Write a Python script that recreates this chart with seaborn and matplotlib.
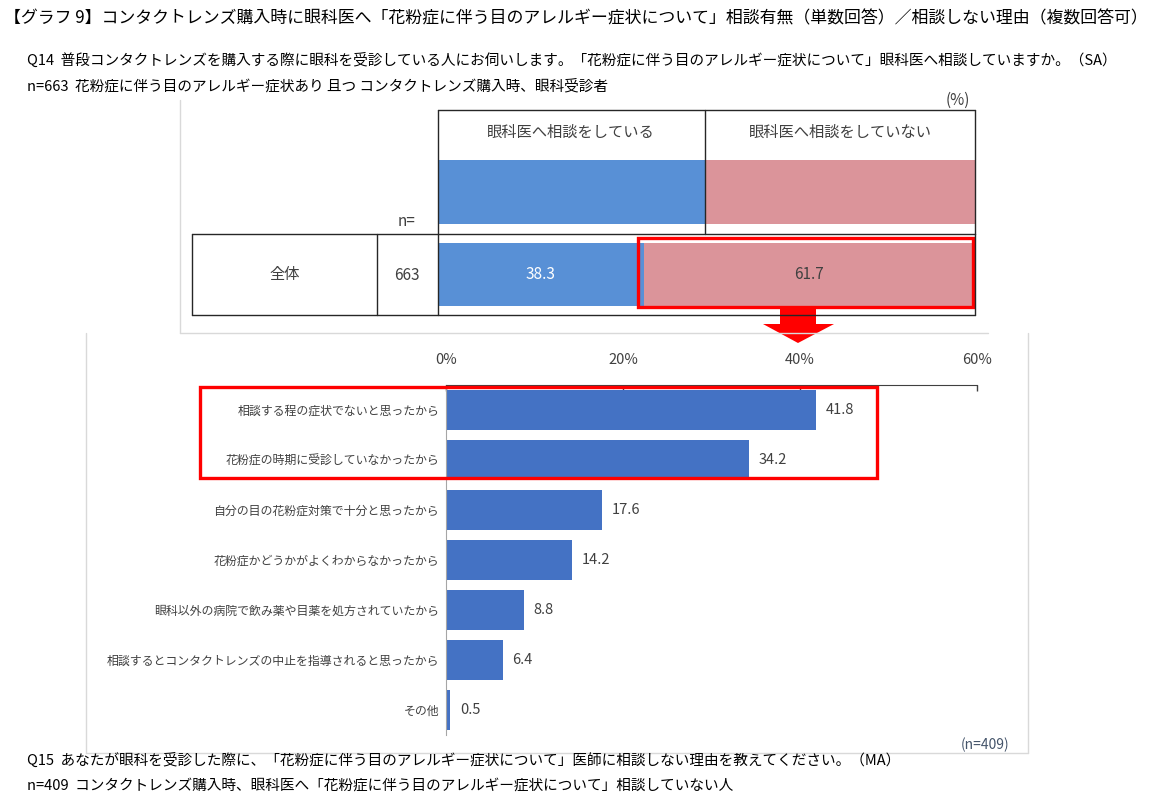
import matplotlib
matplotlib.use("Agg")
import matplotlib.pyplot as plt
from matplotlib.lines import Line2D
from matplotlib.patches import Rectangle, Polygon
import seaborn as sns

# Q14: consulted / not consulted (%)
q14_groups = ["眼科医へ相談をしている", "眼科医へ相談をしていない"]
q14_row = "全体"
q14_n = 663
q14_values = [38.3, 61.7]

# Q15: reasons for not consulting (%)
q15_reasons = [
    "相談する程の症状でないと思ったから",
    "花粉症の時期に受診していなかったから",
    "自分の目の花粉症対策で十分と思ったから",
    "花粉症かどうかがよくわからなかったから",
    "眼科以外の病院で飲み薬や目薬を処方されていたから",
    "相談するとコンタクトレンズの中止を指導されると思ったから",
    "その他",
]
q15_values = [41.8, 34.2, 17.6, 14.2, 8.8, 6.4, 0.5]
q15_ticks = [0, 20, 40, 60]

title = "【グラフ 9】コンタクトレンズ購入時に眼科医へ「花粉症に伴う目のアレルギー症状について」相談有無（単数回答）／相談しない理由（複数回答可）"
q14_text = "Q14  普段コンタクトレンズを購入する際に眼科を受診している人にお伺いします。「花粉症に伴う目のアレルギー症状について」眼科医へ相談していますか。（SA）"
q14_base = "n=663  花粉症に伴う目のアレルギー症状あり 且つ コンタクトレンズ購入時、眼科受診者"
q15_text = "Q15  あなたが眼科を受診した際に、「花粉症に伴う目のアレルギー症状について」医師に相談しない理由を教えてください。（MA）"
q15_base = "n=409  コンタクトレンズ購入時、眼科医へ「花粉症に伴う目のアレルギー症状について」相談していない人"

BLUE_TOP = "#5890D6"
PINK = "#DB949A"
BLUE_BAR = "#4472C4"
RED = "#FF0000"
DARK = "#404040"

sns.set_style("white")
plt.rcParams["font.family"] = ["Noto Sans CJK JP", "DejaVu Sans"]

W, H = 1170, 806
fig = plt.figure(figsize=(W / 100, H / 100), dpi=100)


def fx(x):
    return x / W


def fy(y):
    return 1 - y / H


def line(x0, y0, x1, y1, color="#262626", lw=1.0):
    fig.add_artist(Line2D([fx(x0), fx(x1)], [fy(y0), fy(y1)],
                          transform=fig.transFigure, color=color, lw=lw))


def text(x, y, s, **kw):
    kw.setdefault("va", "center")
    fig.text(fx(x), fy(y), s, **kw)


def rect(x0, y0, x1, y1, **kw):
    fig.add_artist(Rectangle((fx(x0), fy(y1)), fx(x1) - fx(x0), fy(y0) - fy(y1),
                             transform=fig.transFigure, **kw))


# headings
text(4, 18, title, fontsize=12.2, color="black")
text(27, 60, q14_text, fontsize=10.55, color="black")
text(27, 86, q14_base, fontsize=10.55, color="black")
text(27, 760, q15_text, fontsize=10.55, color="black")
text(27, 786, q15_base, fontsize=10.55, color="black")

# light frames around the two chart images
line(180, 100, 180, 333, color="#D9D9D9")
line(180, 333, 988, 333, color="#D9D9D9")
line(86, 333, 86, 753, color="#D9D9D9")
line(1028, 333, 1028, 753, color="#D9D9D9")
line(86, 753, 1028, 753, color="#D9D9D9")

# ---- top table (Q14) ----
text(958, 100, "(%)", fontsize=11, color=DARK, ha="center")
line(438, 110, 975, 110)
for x in (438, 705, 975):
    line(x, 110, x, 234)
text(571, 132, q14_groups[0], fontsize=11, color=DARK, ha="center")
text(840, 132, q14_groups[1], fontsize=11, color=DARK, ha="center")
rect(438, 160, 705, 224, color=BLUE_TOP, lw=0)
rect(705, 160, 975, 224, color=PINK, lw=0)
text(407, 222, "n=", fontsize=11, color=DARK, ha="center")

line(192, 234, 975, 234)
line(192, 315, 975, 315)
for x in (192, 377, 438, 975):
    line(x, 234, x, 315)
text(285, 275, q14_row, fontsize=11, color=DARK, ha="center")
text(407, 275, str(q14_n), fontsize=11, color=DARK, ha="center")

ax1 = fig.add_axes([fx(438), fy(315), (975 - 438) / W, (315 - 234) / H])
sns.barplot(x=[q14_values[0] + q14_values[1]], y=[q14_row], color=PINK,
            width=0.79, saturation=1, ax=ax1, orient="h", linewidth=0)
sns.barplot(x=[q14_values[0]], y=[q14_row], color=BLUE_TOP,
            width=0.79, saturation=1, ax=ax1, orient="h", linewidth=0)
ax1.containers[0][0].set_x(q14_values[0])
ax1.containers[0][0].set_width(q14_values[1])
ax1.bar_label(ax1.containers[0], labels=[f"{q14_values[1]:.1f}"], label_type="center",
              fontsize=11, color=DARK)
ax1.bar_label(ax1.containers[1], labels=[f"{q14_values[0]:.1f}"], label_type="center",
              fontsize=11, color="white")
ax1.set_xlim(0, 100)
ax1.set_ylim(0.5, -0.5)
ax1.axis("off")

rect(638, 238, 973, 307, fill=False, edgecolor=RED, lw=2.4)

# red arrow
fig.add_artist(Polygon([(fx(780), fy(307)), (fx(816), fy(307)), (fx(816), fy(324)),
                        (fx(834), fy(324)), (fx(798), fy(343)), (fx(763), fy(324)),
                        (fx(780), fy(324))], closed=True, transform=fig.transFigure,
                       color=RED, lw=0))

# ---- bottom bar chart (Q15) ----
ax2 = fig.add_axes([fx(446), fy(735), (977 - 446) / W, (735 - 385) / H])
sns.barplot(x=q15_values, y=q15_reasons, color=BLUE_BAR, width=0.8,
            saturation=1, ax=ax2, orient="h", linewidth=0)
ax2.bar_label(ax2.containers[0], labels=[f"{v:.1f}" for v in q15_values],
              padding=7, fontsize=10.5, color=DARK)
ax2.set_xlim(0, 60)
ax2.set_ylim(6.5, -0.5)
ax2.set_xticks(q15_ticks)
ax2.set_xticklabels([f"{t}%" for t in q15_ticks])
ax2.xaxis.tick_top()
ax2.tick_params(axis="x", direction="in", length=4, width=1, color="#404040",
                labelsize=10.5, labelcolor=DARK, pad=13)
ax2.tick_params(axis="y", length=0, labelsize=8.6, labelcolor=DARK, pad=5)
ax2.set_xlabel("")
ax2.set_ylabel("")
for s in ("right", "bottom"):
    ax2.spines[s].set_visible(False)
ax2.spines["top"].set_color("#404040")
ax2.spines["left"].set_color("#A6A6A6")

rect(200, 387, 877, 478, fill=False, edgecolor=RED, lw=2.4)
text(985, 745, "(n=409)", fontsize=10, color="#44546A", ha="center")

fig.savefig("out.png", dpi=100)
